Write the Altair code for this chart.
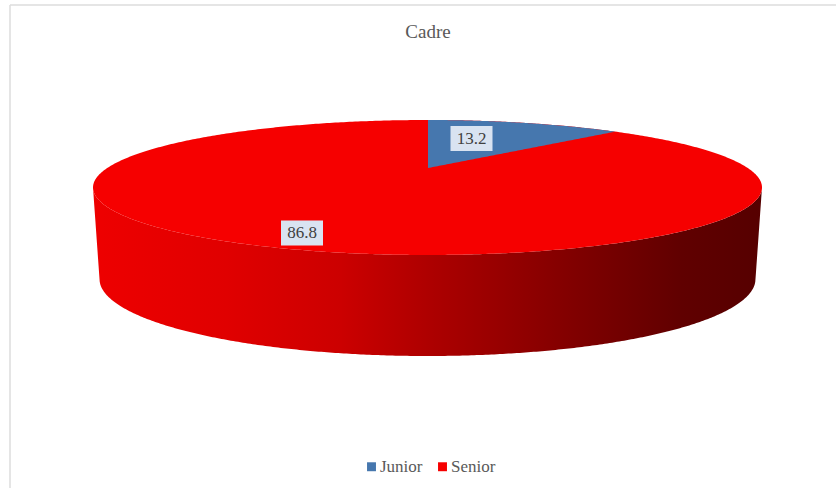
import numpy as np
import pandas as pd
import altair as alt

# Survey shares drawn on the tilted disc
categories = ["Junior", "Senior"]
shares = [13.2, 86.8]
series_colors = ["#4677AE", "#F60000"]

# Layout of the tilted disc, in chart units
W, H = 836, 488
CX, CY, RX, RY = 427.5, 187.5, 334.5, 67.5
BASE_CY, BASE_RX, BASE_RY = 279.0, 328.0, 77.0
APEX_Y = 168.0
TILT = 0.345

# Value label anchors and box size
label_x = [471.5, 302.0]
label_y = [138.5, 233.0]
BOX_W, BOX_H = 42, 25

xs = alt.Scale(domain=[0, W], nice=False, zero=False)
ys = alt.Scale(domain=[H, 0], nice=False, zero=False)
X = alt.X("x:Q", scale=xs, axis=None)
Y = alt.Y("y:Q", scale=ys, axis=None)
Y2 = alt.Y2("y2:Q")

color = alt.Color(
    "category:N",
    scale=alt.Scale(domain=categories, range=series_colors),
    legend=alt.Legend(
        title=None,
        orient="none",
        legendX=363,
        legendY=458,
        direction="horizontal",
        symbolType="square",
        symbolSize=80,
        symbolStrokeWidth=0,
        labelFont="Liberation Serif",
        labelFontSize=17,
        labelColor="#595959",
        labelOffset=0,
        columnPadding=11,
    ),
)


def rim_upper(x):
    return CY - RY * np.sqrt(np.clip(1 - ((x - CX) / RX) ** 2, 0, 1))


def rim_lower(x):
    return CY + RY * np.sqrt(np.clip(1 - ((x - CX) / RX) ** 2, 0, 1))


def base_lower(x):
    return BASE_CY + BASE_RY * np.sqrt(np.clip(1 - ((x - CX) / BASE_RX) ** 2, 0, 1))


# Disc top, sampled densely towards the extremes of the ellipse
t = np.linspace(np.pi, 0, 361)
top_x = CX + RX * np.cos(t)
disc = pd.DataFrame({"x": top_x, "y": rim_upper(top_x), "y2": rim_lower(top_x), "category": categories[1]})

# Side wall: outer edges slope inwards to the smaller base ellipse
base_left, base_right = CX - BASE_RX, CX + BASE_RX
wall_y2 = np.where(
    top_x < base_left,
    CY + (BASE_CY - CY) * (top_x - (CX - RX)) / (base_left - (CX - RX)),
    np.where(
        top_x > base_right,
        CY + (BASE_CY - CY) * ((CX + RX) - top_x) / ((CX + RX) - base_right),
        base_lower(top_x),
    ),
)
wall = pd.DataFrame({"x": top_x, "y": rim_lower(top_x), "y2": wall_y2})

# Junior slice: its sweep comes from the share, foreshortened by the tilt
angle = 2 * np.pi * shares[0] / sum(shares)
end_x = CX + RX * np.sqrt(1 - TILT**2) * np.sin(angle) / (1 + TILT * np.cos(angle))
end_y = rim_upper(end_x)
start_x = CX + 0.5
wedge_x = np.linspace(start_x, end_x, 120)
wedge = pd.DataFrame(
    {
        "x": wedge_x,
        "y": rim_upper(wedge_x),
        "y2": APEX_Y + (end_y - APEX_Y) * (wedge_x - start_x) / (end_x - start_x),
        "category": categories[0],
    }
)

labels = pd.DataFrame({"x": label_x, "y": label_y, "text": [f"{v:.1f}" for v in shares]})
labels["x0"] = labels["x"] - BOX_W / 2
labels["x1"] = labels["x"] + BOX_W / 2
labels["y0"] = labels["y"] - BOX_H / 2
labels["y1"] = labels["y"] + BOX_H / 2

# Frame lines of the chart area
frame_left = pd.DataFrame({"x": [10], "y": [5], "y2": [H]})
frame_top = pd.DataFrame({"x": [10], "x2": [W], "y": [5]})

wall_fill = alt.Gradient(
    gradient="linear",
    x1=0,
    x2=1,
    y1=0,
    y2=0,
    stops=[
        alt.GradientStop(offset=0.0, color="#EE0000"),
        alt.GradientStop(offset=0.2, color="#E00000"),
        alt.GradientStop(offset=0.37, color="#CC0000"),
        alt.GradientStop(offset=0.5, color="#AE0000"),
        alt.GradientStop(offset=0.72, color="#800000"),
        alt.GradientStop(offset=0.88, color="#600000"),
        alt.GradientStop(offset=1.0, color="#560000"),
    ],
)

layers = [
    alt.Chart(frame_left).mark_rule(color="#DDDDDD", strokeWidth=1.5).encode(x=X, y=Y, y2=Y2),
    alt.Chart(frame_top).mark_rule(color="#DDDDDD", strokeWidth=1.5).encode(x=X, x2=alt.X2("x2:Q"), y=Y),
    alt.Chart(wall).mark_area(color=wall_fill, interpolate="linear").encode(x=X, y=Y, y2=Y2),
    alt.Chart(disc).mark_area(interpolate="linear").encode(x=X, y=Y, y2=Y2, color=color),
    alt.Chart(wedge).mark_area(interpolate="linear").encode(x=X, y=Y, y2=Y2, color=color),
    alt.Chart(labels).mark_rect(color="#D9E3F1").encode(
        x=alt.X("x0:Q", scale=xs, axis=None),
        x2=alt.X2("x1:Q"),
        y=alt.Y("y0:Q", scale=ys, axis=None),
        y2=alt.Y2("y1:Q"),
    ),
    alt.Chart(labels).mark_text(
        font="Liberation Serif", fontSize=17, color="#404040", align="center", baseline="middle"
    ).encode(x=X, y=Y, text="text:N"),
]

chart = (
    alt.layer(*layers)
    .properties(
        width=W,
        height=H,
        padding=0,
        autosize=alt.AutoSizeParams(type="none"),
        title=alt.TitleParams(
            "Cadre",
            anchor="middle",
            font="Liberation Serif",
            fontSize=19,
            fontWeight="normal",
            color="#595959",
            offset=0,
            dx=10,
            dy=42,
        ),
        background="white",
    )
    .configure_view(stroke=None)
)

chart.save("out.html", embed_options={"renderer": "svg", "actions": False})
